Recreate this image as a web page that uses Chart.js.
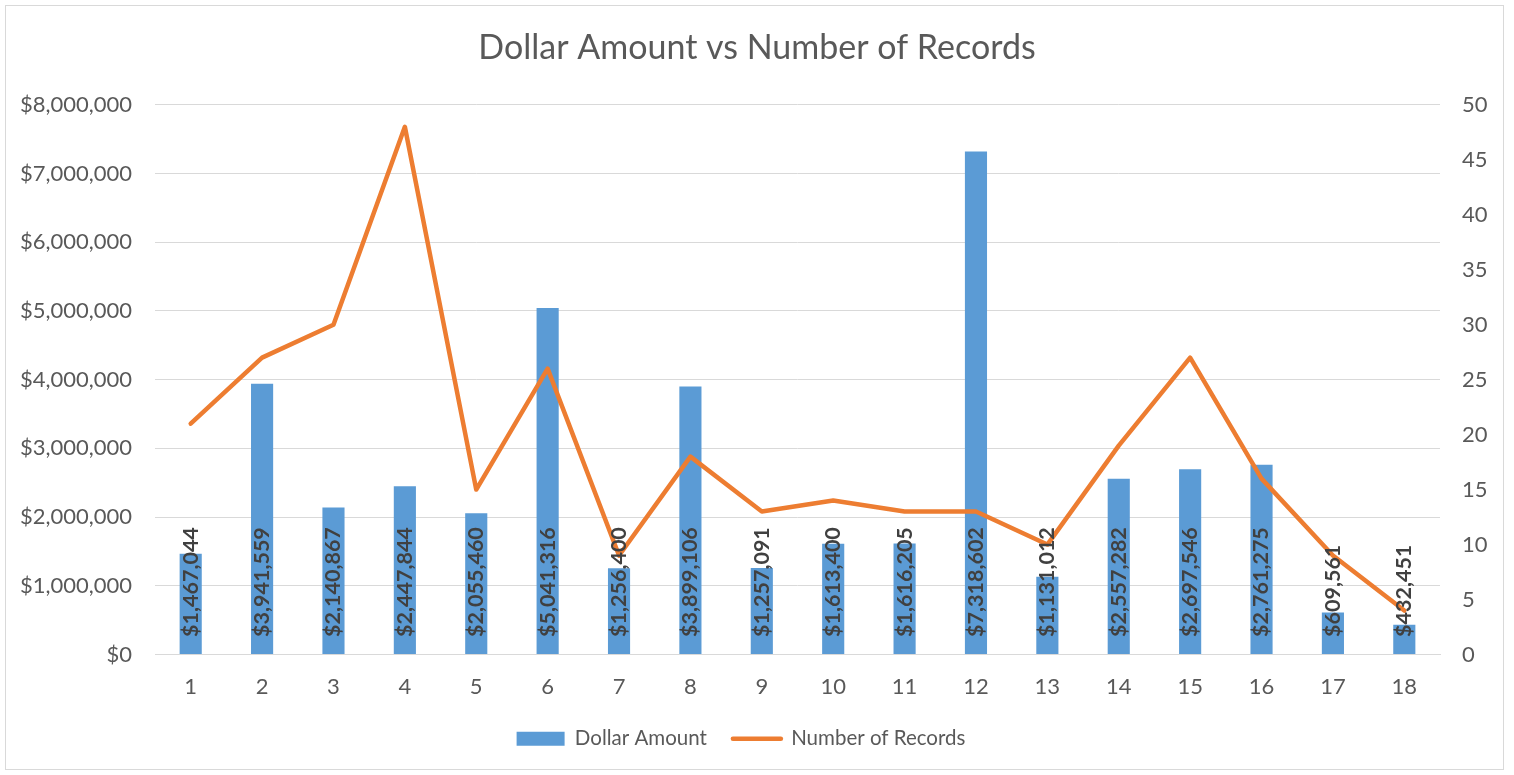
<!DOCTYPE html>
<html>
<head>
<meta charset="utf-8">
<script src="https://cdn.jsdelivr.net/npm/chart.js@4/dist/chart.umd.min.js"></script>
<style>
  html, body { margin: 0; padding: 0; background: #ffffff; }
  #wrap { position: relative; width: 1514px; height: 775px; }
</style>
</head>
<body>
<div id="wrap"><canvas id="c" width="1514" height="775"></canvas></div>
<script>
const categories = ['1','2','3','4','5','6','7','8','9','10','11','12','13','14','15','16','17','18'];
const dollarAmount = [1467044, 3941559, 2140867, 2447844, 2055460, 5041316, 1256400, 3899106, 1257091, 1613400, 1616205, 7318602, 1131012, 2557282, 2697546, 2761275, 609561, 432451];
const numberOfRecords = [21, 27, 30, 48, 15, 26, 9, 18, 13, 14, 13, 13, 10, 19, 27, 16, 9, 4];
const seriesNames = ['Dollar Amount', 'Number of Records'];
const chartTitle = 'Dollar Amount vs Number of Records';

const FONT = 'Lato, "Open Sans", "DejaVu Sans", sans-serif';
const TEXT = '#595959';
const fmtDollar = v => '$' + Math.round(v).toLocaleString('en-US');

const frame = {
  id: 'frame',
  beforeDraw(chart) {
    const ctx = chart.ctx;
    ctx.save();
    ctx.fillStyle = '#ffffff';
    ctx.fillRect(0, 0, chart.width, chart.height);
    ctx.strokeStyle = '#d9d9d9';
    ctx.lineWidth = 1;
    ctx.strokeRect(5.5, 5.5, 1498, 764);
    ctx.restore();
  },
  afterLayout(chart) {
    if (chart.legend) {
      chart.legend.left -= 16;
      chart.legend.right -= 16;
    }
  }
};

const barLabels = {
  id: 'barLabels',
  afterDatasetsDraw(chart) {
    const ctx = chart.ctx;
    const meta = chart.getDatasetMeta(0);
    const ds = chart.data.datasets[0];
    ctx.save();
    ctx.font = 'bold 21.5px ' + FONT;
    ctx.fillStyle = '#404040';
    ctx.textAlign = 'left';
    ctx.textBaseline = 'middle';
    meta.data.forEach((bar, i) => {
      const base = bar.base;
      ctx.save();
      ctx.translate(bar.x, base - 17);
      ctx.rotate(-Math.PI / 2);
      ctx.fillText(fmtDollar(ds.data[i]), 0, 0);
      ctx.restore();
    });
    ctx.restore();
  }
};

new Chart(document.getElementById('c'), {
  type: 'bar',
  data: {
    labels: categories,
    datasets: [
      {
        type: 'bar',
        label: seriesNames[0],
        data: dollarAmount,
        backgroundColor: '#5B9BD5',
        borderWidth: 0,
        yAxisID: 'y',
        barPercentage: 0.31,
        categoryPercentage: 1.0,
        order: 2
      },
      {
        type: 'line',
        label: seriesNames[1],
        data: numberOfRecords,
        borderColor: '#ED7D31',
        backgroundColor: '#ED7D31',
        borderWidth: 4.5,
        pointRadius: 0,
        pointHoverRadius: 0,
        tension: 0,
        borderCapStyle: 'round',
        borderJoinStyle: 'round',
        yAxisID: 'y1',
        order: 1
      }
    ]
  },
  options: {
    responsive: false,
    animation: false,
    devicePixelRatio: 1,
    layout: { padding: { left: 0, right: 0, top: 0, bottom: 16 } },
    plugins: {
      title: {
        display: true,
        text: chartTitle,
        color: TEXT,
        font: { family: FONT, size: 34, weight: 'normal' },
        padding: { top: 28, bottom: 36 }
      },
      legend: {
        position: 'bottom',
        labels: {
          color: TEXT,
          font: { family: FONT, size: 20.5 },
          usePointStyle: true,
          pointStyleWidth: 48,
          boxHeight: 14,
          padding: 26,
          generateLabels(chart) {
            return chart.data.datasets.map((d, i) => ({
              text: d.label,
              datasetIndex: i,
              fillStyle: d.type === 'bar' ? d.backgroundColor : d.borderColor,
              strokeStyle: d.type === 'bar' ? d.backgroundColor : d.borderColor,
              lineWidth: d.type === 'bar' ? 0 : 4.5,
              lineCap: 'round',
              pointStyle: d.type === 'bar' ? 'rect' : 'line',
              hidden: false,
              fontColor: TEXT
            }));
          }
        }
      },
      tooltip: { enabled: false }
    },
    scales: {
      x: {
        grid: { display: false, drawTicks: false },
        border: { display: true, color: '#d9d9d9' },
        ticks: { color: TEXT, font: { family: FONT, size: 22 }, padding: 19, maxRotation: 0 },
        afterFit(s) { s.height = 48; }
      },
      y: {
        position: 'left',
        min: 0,
        max: 8000000,
        grid: { color: '#d9d9d9', drawTicks: false },
        border: { display: false },
        ticks: {
          stepSize: 1000000,
          color: TEXT,
          font: { family: FONT, size: 22 },
          padding: 23,
          callback: v => fmtDollar(v)
        },
        afterFit(s) { s.width = 155; }
      },
      y1: {
        position: 'right',
        min: 0,
        max: 50,
        grid: { display: false, drawTicks: false },
        border: { display: false },
        ticks: { stepSize: 5, color: TEXT, font: { family: FONT, size: 22 }, padding: 22 },
        afterFit(s) { s.width = 74; }
      }
    }
  },
  plugins: [frame, barLabels]
});
</script>
</body>
</html>
